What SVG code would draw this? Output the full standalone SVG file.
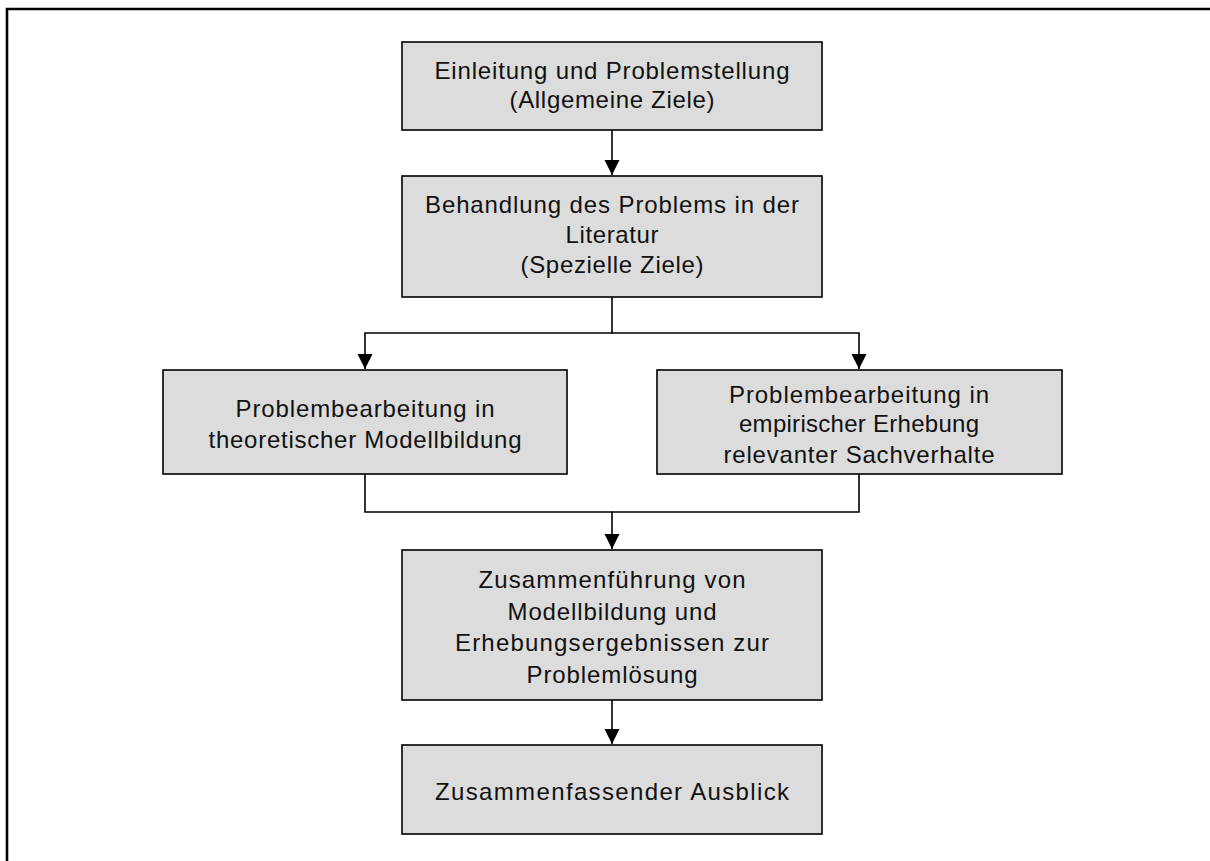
<svg xmlns="http://www.w3.org/2000/svg" width="1210" height="861" viewBox="0 0 1210 861">
  <style>
    .frame { fill: none; stroke: #000; stroke-width: 2.6; }
    .box { fill: #dcdcdc; stroke: #000; stroke-width: 1.6; }
    .lbl { font-family: "Liberation Sans", Arial, sans-serif; font-size: 24px; fill: #111; text-anchor: middle; }
    .wire { fill: none; stroke: #000; stroke-width: 1.6; }
  </style>
  <defs>
    <marker id="arrow" markerUnits="userSpaceOnUse" markerWidth="16" markerHeight="16" refX="15" refY="7.5" orient="auto">
      <path d="M0,0 L15,7.5 L0,15 Z" fill="#000"/>
    </marker>
  </defs>

  <rect width="1210" height="861" fill="#fff"/>
  <!-- page frame: only the left and top edges fall inside the sheet -->
  <path class="frame" d="M7,861 V9 H1210"/>

  <g id="connectors">
    <path class="wire" d="M612,130 V175" marker-end="url(#arrow)"/>
    <path class="wire" d="M612,297 V333 H365 V369" marker-end="url(#arrow)"/>
    <path class="wire" d="M612,333 H859 V369" marker-end="url(#arrow)"/>
    <path class="wire" d="M365,474 V512 H612 V549" marker-end="url(#arrow)"/>
    <path class="wire" d="M859,474 V512 H612"/>
    <path class="wire" d="M612,700 V744" marker-end="url(#arrow)"/>
  </g>

  <g id="einleitung">
    <rect class="box" x="402" y="42" width="420" height="88"/>
    <text class="lbl" x="612" y="79" textLength="355" lengthAdjust="spacing">Einleitung und Problemstellung</text>
    <text class="lbl" x="612" y="108" textLength="205" lengthAdjust="spacing">(Allgemeine Ziele)</text>
  </g>

  <g id="literatur">
    <rect class="box" x="402" y="176" width="420" height="121"/>
    <text class="lbl" x="612" y="213" textLength="374" lengthAdjust="spacing">Behandlung des Problems in der</text>
    <text class="lbl" x="612" y="243" textLength="93" lengthAdjust="spacing">Literatur</text>
    <text class="lbl" x="612" y="273" textLength="183" lengthAdjust="spacing">(Spezielle Ziele)</text>
  </g>

  <g id="modellbildung">
    <rect class="box" x="163" y="370" width="404" height="104"/>
    <text class="lbl" x="365" y="417" textLength="259" lengthAdjust="spacing">Problembearbeitung  in</text>
    <text class="lbl" x="365" y="448" textLength="313" lengthAdjust="spacing">theoretischer Modellbildung</text>
  </g>

  <g id="erhebung">
    <rect class="box" x="657" y="370" width="405" height="104"/>
    <text class="lbl" x="859" y="403" textLength="260" lengthAdjust="spacing">Problembearbeitung  in</text>
    <text class="lbl" x="859" y="432" textLength="240" lengthAdjust="spacing">empirischer Erhebung</text>
    <text class="lbl" x="859" y="463" textLength="271" lengthAdjust="spacing">relevanter  Sachverhalte</text>
  </g>

  <g id="zusammenfuehrung">
    <rect class="box" x="402" y="550" width="420" height="150"/>
    <text class="lbl" x="612" y="588" textLength="267" lengthAdjust="spacing">Zusammenführung  von</text>
    <text class="lbl" x="612" y="620" textLength="209" lengthAdjust="spacing">Modellbildung und</text>
    <text class="lbl" x="612" y="651" textLength="314" lengthAdjust="spacing">Erhebungsergebnissen  zur</text>
    <text class="lbl" x="612" y="683" textLength="171" lengthAdjust="spacing">Problemlösung</text>
  </g>

  <g id="ausblick">
    <rect class="box" x="402" y="745" width="420" height="89"/>
    <text class="lbl" x="612" y="800" textLength="354" lengthAdjust="spacing">Zusammenfassender  Ausblick</text>
  </g>
</svg>
